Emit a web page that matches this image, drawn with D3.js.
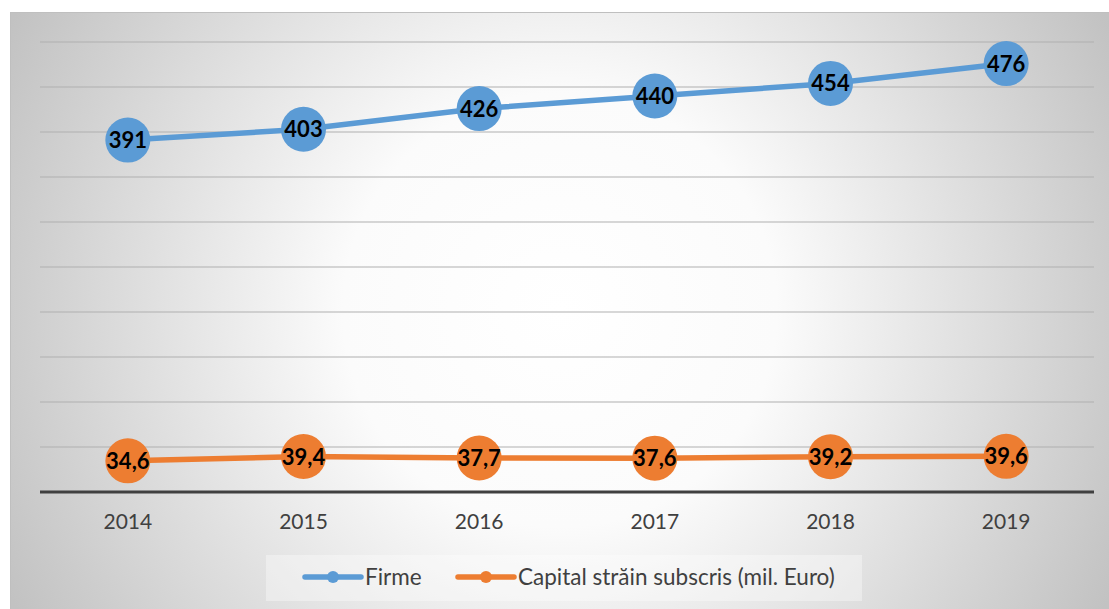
<!DOCTYPE html>
<meta charset="utf-8">
<style>
body { margin: 0; background: #fff; font-family: Lato, "Open Sans", sans-serif; }
</style>
<body>
<svg width="1109" height="609"></svg>
<script src="https://cdn.jsdelivr.net/npm/d3@7"></script>
<script>
// data
var years = ["2014", "2015", "2016", "2017", "2018", "2019"];
var firme = [391, 403, 426, 440, 454, 476];
var capital = [34.6, 39.4, 37.7, 37.6, 39.2, 39.6];
var yTicks = [0, 50, 100, 150, 200, 250, 300, 350, 400, 450, 500];
var seriesNames = ["Firme", "Capital străin subscris (mil. Euro)"];
var colors = ["#5b9bd5", "#ed7d31"];

var svg = d3.select("svg");

var defs = svg.append("defs");
var grad = defs.append("radialGradient")
    .attr("id", "bg")
    .attr("gradientUnits", "userSpaceOnUse")
    .attr("cx", 560).attr("cy", 310).attr("r", 620);
grad.append("stop").attr("offset", "0%").attr("stop-color", "#ffffff");
grad.append("stop").attr("offset", "35%").attr("stop-color", "#fbfbfb");
grad.append("stop").attr("offset", "100%").attr("stop-color", "#c2c2c2");

svg.append("rect")
    .attr("x", 10.5).attr("y", 12.5)
    .attr("width", 1100).attr("height", 600)
    .attr("fill", "url(#bg)")
    .attr("stroke", "#bfbfbf");

var x = d3.scalePoint().domain(years).range([40, 1094]).padding(0.5),
    y = d3.scaleLinear().domain([0, 500]).range([492, 42]);

// gridlines
svg.append("g").selectAll("line")
    .data(yTicks.slice(1))
    .enter().append("line")
      .attr("x1", 40).attr("x2", 1094)
      .attr("y1", function(d) { return y(d); })
      .attr("y2", function(d) { return y(d); })
      .attr("stroke", "#b0b0b0")
      .attr("stroke-width", 1.2);

// x axis
svg.append("line")
    .attr("x1", 40).attr("x2", 1094)
    .attr("y1", y(0)).attr("y2", y(0))
    .attr("stroke", "#404040").attr("stroke-width", 3);

svg.append("g").selectAll("text")
    .data(years)
    .enter().append("text")
      .attr("x", function(d) { return x(d); })
      .attr("y", 529)
      .attr("text-anchor", "middle")
      .attr("fill", "#404040")
      .style("font-size", "21px")
      .text(function(d) { return d; });

var series = [firme, capital];
var line = d3.line()
    .x(function(d, i) { return x(years[i]); })
    .y(function(d) { return y(d); });

series.forEach(function(s, k) {
  var g = svg.append("g");
  g.append("path")
      .datum(s)
      .attr("d", line)
      .attr("fill", "none")
      .attr("stroke", colors[k])
      .attr("stroke-width", 5.5)
      .attr("stroke-linecap", "round");
  g.selectAll("circle")
    .data(s)
    .enter().append("circle")
      .attr("cx", function(d, i) { return x(years[i]); })
      .attr("cy", function(d) { return y(d); })
      .attr("r", 22.5)
      .attr("fill", colors[k]);
  g.selectAll("text")
    .data(s)
    .enter().append("text")
      .attr("x", function(d, i) { return x(years[i]); })
      .attr("y", function(d) { return y(d) + 8; })
      .attr("text-anchor", "middle")
      .style("font-size", "22px")
      .style("font-weight", "bold")
      .attr("fill", "#000")
      .text(function(d) { return k === 1 ? String(d).replace(".", ",") : d; });
});

// legend
var legend = svg.append("g");
legend.append("rect")
    .attr("x", 266).attr("y", 555)
    .attr("width", 596).attr("height", 46)
    .attr("fill", "#ffffff").attr("opacity", 0.35);
var lx = [305, 458];
seriesNames.forEach(function(n, k) {
  legend.append("line")
      .attr("x1", lx[k]).attr("x2", lx[k] + 56)
      .attr("y1", 577).attr("y2", 577)
      .attr("stroke", colors[k]).attr("stroke-width", 5.5)
      .attr("stroke-linecap", "round");
  legend.append("circle")
      .attr("cx", lx[k] + 28).attr("cy", 577).attr("r", 6)
      .attr("fill", colors[k]);
  legend.append("text")
      .attr("x", lx[k] + 60).attr("y", 585)
      .attr("fill", "#404040")
      .style("font-size", "22.5px")
      .text(n);
});
</script>
</body>
